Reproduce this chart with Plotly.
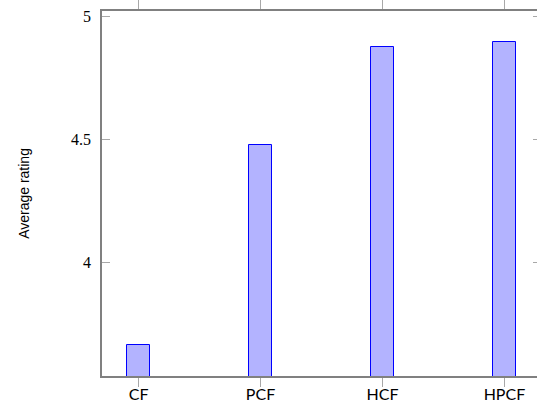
import plotly.graph_objects as go

categories = ["CF", "PCF", "HCF", "HPCF"]
ratings = [3.663, 4.478, 4.873, 4.897]
y_tick_values = [4, 4.5, 5]
y_tick_labels = ["4", "4.5", "5"]

# the axis box extends slightly past the 537 px window (as in the reference)
W, H = 543, 410
L, R, T, B = 102, 0, 10, 34

x_pos = list(range(len(categories)))

fig = go.Figure()
fig.add_trace(go.Bar(
    x=x_pos, y=ratings, width=0.188,
    marker=dict(color="#b3b3ff", line=dict(color="#0000ff", width=1)),
    showlegend=False,
))

axis_line = "#808080"
tick_col = "#a8a8a8"

fig.update_layout(
    width=W, height=H,
    margin=dict(l=L, r=R, t=T, b=B, pad=0),
    paper_bgcolor="white", plot_bgcolor="white",
    bargap=0,
    xaxis=dict(
        range=[-0.3, 3.3],
        tickmode="array", tickvals=x_pos, ticktext=categories,
        ticks="outside", ticklen=9, tickcolor=tick_col, tickwidth=1,
        showline=True, linecolor=axis_line, linewidth=1.5, mirror="ticks",
        showgrid=False, zeroline=False,
        tickfont=dict(family="Lato", size=16, color="black"),
        ticklabelstandoff=-6,
    ),
    yaxis=dict(
        range=[3.538, 5.021],
        tickmode="array", tickvals=y_tick_values, ticktext=y_tick_labels,
        ticks="inside", ticklen=8, tickcolor=tick_col, tickwidth=1,
        showline=True, linecolor=axis_line, linewidth=1.5, mirror="ticks",
        showgrid=False, zeroline=False,
        tickfont=dict(family="Liberation Serif", size=16, color="black"),
        ticklabelstandoff=6,
    ),
    annotations=[dict(
        text="Average rating", textangle=-90,
        xref="paper", yref="paper",
        x=(23 - L) / (W - L - R), y=0.5,
        xanchor="center", yanchor="middle", showarrow=False,
        font=dict(family="Liberation Sans", size=14, color="black"),
    )],
)

fig.write_html(
    "out.html",
    config={"displayModeBar": False},
    post_script="document.body.style.margin='0';document.body.style.overflow='hidden';",
)
